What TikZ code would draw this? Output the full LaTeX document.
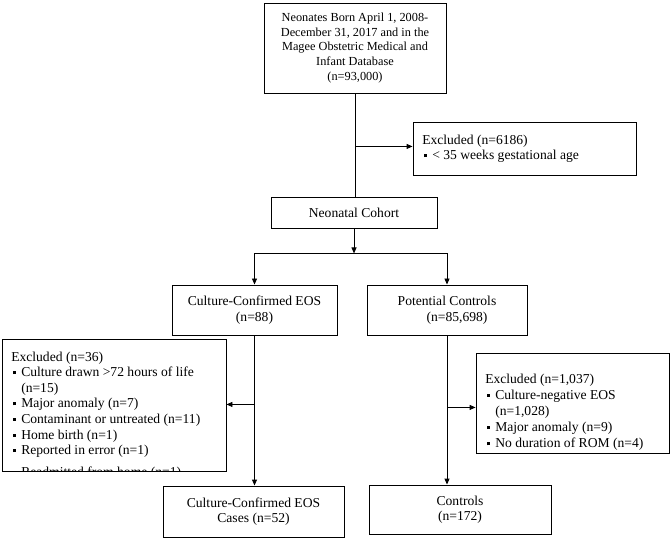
\documentclass[tikz,border=0pt]{standalone}
\usepackage{fontspec}
\setmainfont{Liberation Serif}
\usetikzlibrary{arrows.meta, positioning}

\newcommand{\sqbul}{\makebox[10pt][l]{\hspace{1.5pt}\rule[2.6pt]{3pt}{3pt}}}
\newcommand{\hangin}{\hspace*{10pt}}

\begin{document}
\begin{tikzpicture}[
      x=1pt, y=1pt,
      box/.style={draw, line width=0.9pt, align=center, inner sep=2pt,
        font=\fontsize{13.6}{15.5}\selectfont},
      exbox/.style={draw, line width=0.9pt, inner sep=0pt},
      note/.style={anchor=north west, align=left, inner sep=0pt,
        font=\fontsize{13.6}{15.6}\selectfont},
      arr/.style={line width=0.9pt, -{Triangle[length=6pt, width=5pt]}},
      line/.style={line width=0.9pt}
    ]
    \useasboundingbox (0,0) rectangle (671,538);

    \node[box, minimum width=182pt, minimum height=90pt,
      font=\fontsize{12.3}{14.7}\selectfont] (top) at (355,490)
      {Neonates Born April 1, 2008-\\December 31, 2017 and in the\\Magee Obstetric Medical and\\Infant Database\\(n=93,000)};
    \node[exbox, minimum width=223pt, minimum height=53pt] (exc1) at (524.5,389.5) {};
    \node[note] (exc1txt) at ([xshift=9.5pt, yshift=-13pt]exc1.north west)
      {Excluded (n=6186)\\\sqbul{}< 35 weeks gestational age};
    \node[box, minimum width=166pt, minimum height=31pt] (cohort) at (354,325.5) {Neonatal Cohort};

    \node[box, minimum width=165pt, minimum height=50pt] (eos) at (254.5,228)
      {Culture-Confirmed EOS\\(n=88)};
    \node[box, minimum width=160pt, minimum height=50pt] (pot) at (447,228)
      {Potential Controls\\\hspace*{20pt}(n=85,698)};

    % exclusion boxes, text cut off at the bottom edge
    \node[exbox, minimum width=224pt, minimum height=132pt] (exeos) at (114,133) {};
    \begin{scope}
      \clip (exeos.south west) rectangle (exeos.north east);
      \node[note] (exeostxt) at ([xshift=9.5pt, yshift=-13pt]exeos.north west)
        {Excluded (n=36)\\
         \sqbul{}Culture drawn >72 hours of life\\
         \hangin(n=15)\\
         \sqbul{}Major anomaly (n=7)\\
         \sqbul{}Contaminant or untreated (n=11)\\
         \sqbul{}Home birth (n=1)\\
         \sqbul{}Reported in error (n=1)\\[6pt]
         \sqbul{}Readmitted from home (n=1)};
    \end{scope}
    \node[exbox, minimum width=193pt, minimum height=100pt] (excon) at (572.5,135) {};
    \node[note, font=\fontsize{13.6}{16.2}\selectfont] (excontxt)
      at ([xshift=9.5pt, yshift=-21pt]excon.north west)
      {Excluded (n=1,037)\\
       \sqbul{}Culture-negative EOS\\
       \hangin(n=1,028)\\
       \sqbul{}Major anomaly (n=9)\\
       \sqbul{}No duration of ROM (n=4)};

    \node[box, minimum width=181pt, minimum height=51pt] (cases) at (253.5,26.5)
      {Culture-Confirmed EOS\\Cases (n=52)};
    \node[box, minimum width=182pt, minimum height=49pt] (controls) at (460,28.5)
      {Controls\\(n=172)};

    \coordinate (b1) at ([yshift=-53pt]top.south);
    \coordinate (split) at ([yshift=-25pt]cohort.south);
    \coordinate (b2) at ([yshift=-69pt]eos.south);
    \coordinate (b3) at ([yshift=-72pt]pot.south);

    \draw[line] (top.south) -- (top.south |- cohort.north);
    \draw[arr] (b1) -- (b1 -| exc1.west);
    \draw[arr] (cohort.south) -- (split);
    \draw[line] (split -| eos.north) -- (split -| pot.north);
    \draw[arr] (split -| eos.north) -- (eos.north);
    \draw[arr] (split -| pot.north) -- (pot.north);

    \draw[arr] (eos.south) -- (eos.south |- cases.north);
    \draw[arr] (b2) -- (b2 -| exeos.east);
    \draw[arr] (pot.south) -- (pot.south |- controls.north);
    \draw[arr] (b3) -- (b3 -| excon.west);
  \end{tikzpicture}
\end{document}
